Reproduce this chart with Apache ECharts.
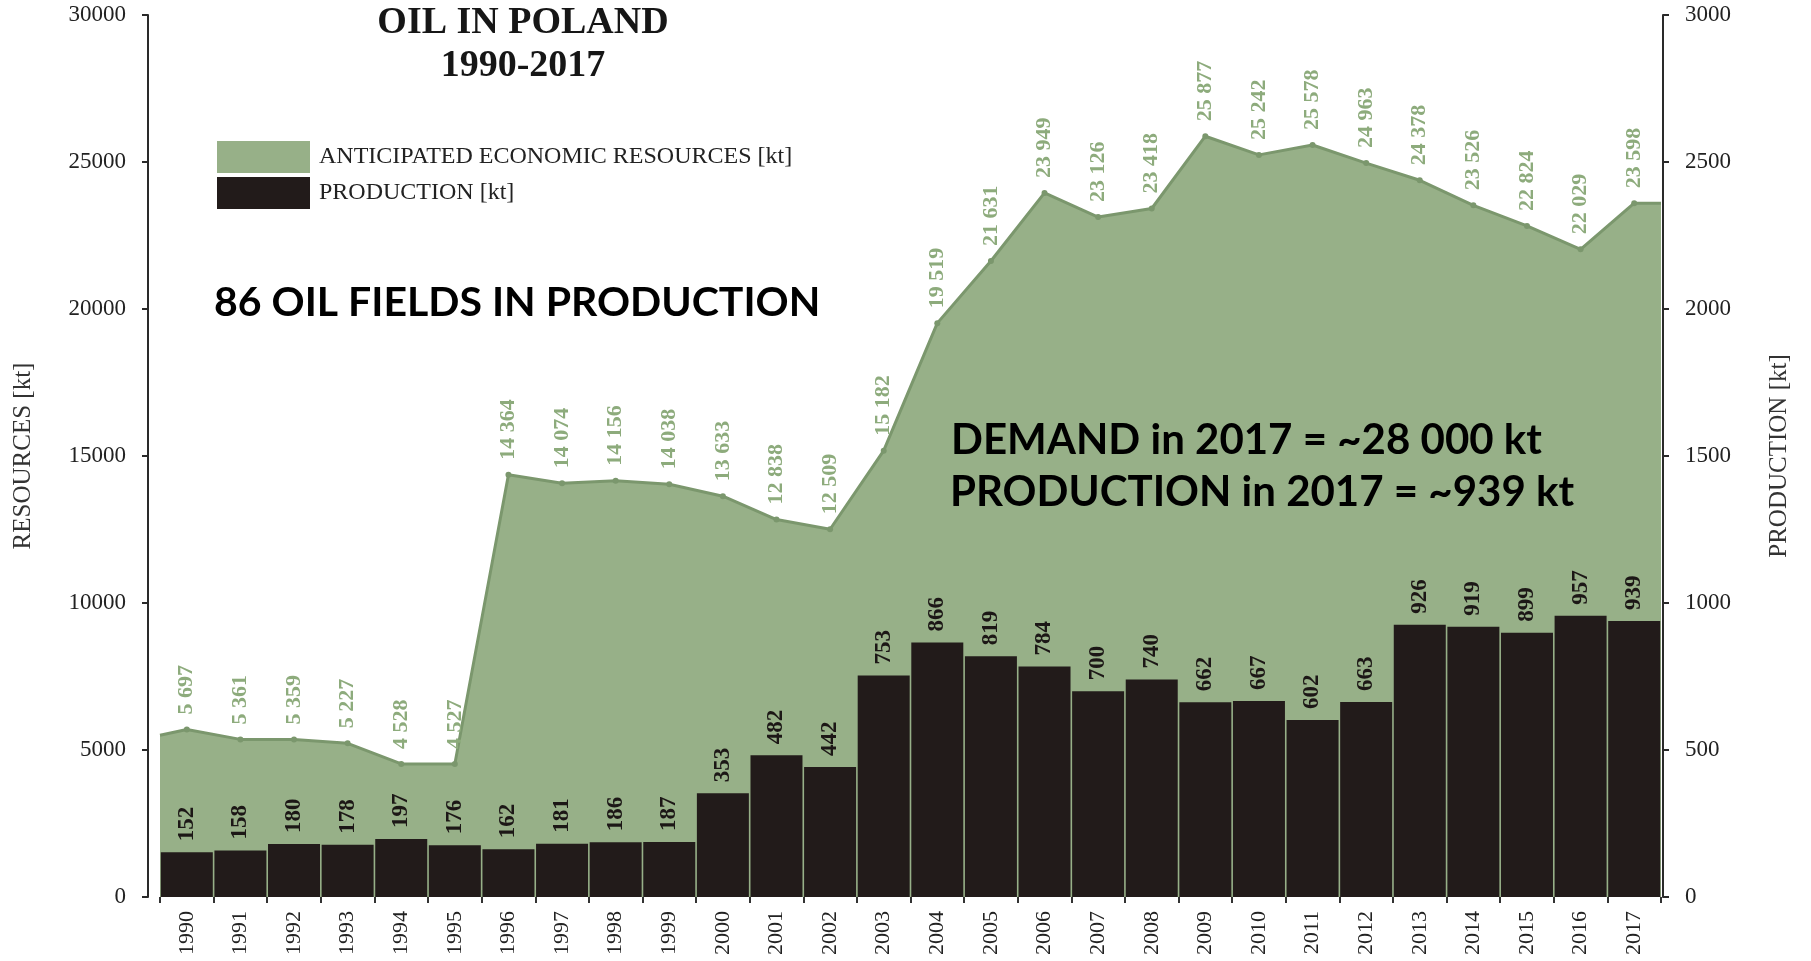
<!DOCTYPE html>
<html>
<head>
<meta charset="utf-8">
<title>Oil in Poland 1990-2017</title>
<script src="https://cdn.jsdelivr.net/npm/echarts@6/dist/echarts.min.js"></script>
<style>
  html, body { margin: 0; padding: 0; background: #fff; }
  #chart { width: 1811px; height: 961px; }
</style>
</head>
<body>
<div id="chart"></div>
<script>
const years = ['1990', '1991', '1992', '1993', '1994', '1995', '1996', '1997', '1998', '1999',
  '2000', '2001', '2002', '2003', '2004', '2005', '2006', '2007', '2008', '2009',
  '2010', '2011', '2012', '2013', '2014', '2015', '2016', '2017'];
const resources = [5697, 5361, 5359, 5227, 4528, 4527, 14364, 14074, 14156, 14038,
  13633, 12838, 12509, 15182, 19519, 21631, 23949, 23126, 23418, 25877,
  25242, 25578, 24963, 24378, 23526, 22824, 22029, 23598];
const production = [152, 158, 180, 178, 197, 176, 162, 181, 186, 187,
  353, 482, 442, 753, 866, 819, 784, 700, 740, 662,
  667, 602, 663, 926, 919, 899, 957, 939];
// area reaches the outer edges of the first and last bars
const resourcesLeftEdge = 5500;
const resourcesRightEdge = 23598;
const leftTicks = [0, 5000, 10000, 15000, 20000, 25000, 30000];
const rightTicks = [0, 500, 1000, 1500, 2000, 2500, 3000];

const serif = "'Liberation Serif', 'DejaVu Serif', serif";
const green = '#97b088';
const greenLine = '#7b976d';
const greenText = '#8dab7c';
const barColor = '#221b1a';

const fmtSpace = v => String(v).replace(/\B(?=(\d{3})+(?!\d))/g, ' ');

const areaData = [{ value: [-0.5, resourcesLeftEdge], symbol: 'none', label: { show: false } }]
  .concat(resources.map((v, i) => [i, v]))
  .concat([{ value: [years.length - 0.5, resourcesRightEdge], symbol: 'none', label: { show: false } }]);

const chart = echarts.init(document.getElementById('chart'));

function yAxisOf(pos, ticks, name, offset, gap) {
  return {
    type: 'value',
    position: pos,
    offset: offset,
    min: ticks[0],
    max: ticks[ticks.length - 1],
    interval: ticks[1] - ticks[0],
    name: name,
    nameLocation: 'middle',
    nameRotate: 90,
    nameGap: gap,
    nameTextStyle: { fontFamily: serif, fontSize: 25, color: '#333' },
    axisLine: { show: true, onZero: false, lineStyle: { color: '#2a2a2a', width: 2 } },
    axisTick: { show: true, length: 6, lineStyle: { color: '#2a2a2a', width: 2 } },
    axisLabel: { margin: 22, fontFamily: serif, fontSize: 23, color: '#222', formatter: v => String(v) },
    splitLine: { show: false }
  };
}

const option = {
  animation: false,
  backgroundColor: '#fff',
  grid: { left: 160, right: 150, top: 15, bottom: 64 },
  legend: {
    left: 217,
    top: 141,
    padding: 0,
    orient: 'vertical',
    itemWidth: 93,
    itemHeight: 32,
    itemGap: 4,
    icon: 'rect',
    selectedMode: false,
    itemStyle: { borderWidth: 0 },
    textStyle: { fontFamily: serif, fontSize: 24, color: '#222', padding: [0, 0, 0, 4] },
    data: [
      { name: 'ANTICIPATED ECONOMIC RESOURCES [kt]', itemStyle: { color: green } },
      { name: 'PRODUCTION [kt]', itemStyle: { color: barColor } }
    ]
  },
  xAxis: [
    {
      type: 'category',
      data: years,
      axisLine: { show: false },
      axisTick: { show: true, length: 6, lineStyle: { color: '#333', width: 2 } },
      axisLabel: {
        rotate: 90,
        margin: 14,
        fontFamily: serif,
        fontSize: 22,
        color: '#222'
      },
      splitLine: { show: false }
    },
    {
      type: 'value',
      min: -0.5,
      max: years.length - 0.5,
      show: false
    }
  ],
  yAxis: [
    yAxisOf('left', leftTicks, 'RESOURCES [kt]', 12, 112),
    yAxisOf('right', rightTicks, 'PRODUCTION [kt]', 2, 104)
  ],
  series: [
    {
      name: 'ANTICIPATED ECONOMIC RESOURCES [kt]',
      type: 'line',
      xAxisIndex: 1,
      yAxisIndex: 0,
      data: areaData,
      symbol: 'circle',
      symbolSize: 6,
      itemStyle: { color: greenLine },
      lineStyle: { color: greenLine, width: 3 },
      areaStyle: { color: green, opacity: 1 },
      label: {
        show: true,
        position: 'top',
        distance: 12,
        rotate: 90,
        align: 'left',
        verticalAlign: 'middle',
        fontFamily: serif,
        fontWeight: 'bold',
        fontSize: 22,
        color: greenText,
        formatter: p => fmtSpace(p.value[1])
      },
      z: 1
    },
    {
      name: 'PRODUCTION [kt]',
      type: 'bar',
      xAxisIndex: 0,
      yAxisIndex: 1,
      data: production,
      barCategoryGap: '3%',
      itemStyle: { color: barColor },
      label: {
        show: true,
        position: 'top',
        distance: 11,
        rotate: 90,
        align: 'left',
        verticalAlign: 'middle',
        fontFamily: serif,
        fontWeight: 'bold',
        fontSize: 23,
        color: '#1c1716'
      },
      z: 3
    }
  ],
  graphic: [
    {
      type: 'text',
      x: 523,
      y: 45,
      style: {
        text: 'OIL IN POLAND\n1990-2017',
        align: 'center',
        verticalAlign: 'middle',
        lineHeight: 43,
        font: "bold 38px 'Liberation Serif'",
        fill: '#161616'
      }
    },
    {
      type: 'text',
      x: 214,
      y: 303,
      style: {
        text: '86 OIL FIELDS IN PRODUCTION',
        align: 'left',
        verticalAlign: 'middle',
        font: "bold 41px Lato, 'Open Sans', sans-serif",
        fill: '#000'
      },
      z: 10
    },
    {
      type: 'text',
      x: 951,
      y: 440,
      style: {
        text: 'DEMAND in 2017 = ~28 000 kt',
        align: 'left',
        verticalAlign: 'middle',
        font: "bold 42px Lato, 'Open Sans', sans-serif",
        fill: '#000'
      },
      z: 10
    },
    {
      type: 'text',
      x: 950,
      y: 492,
      style: {
        text: 'PRODUCTION in 2017 = ~939 kt',
        align: 'left',
        verticalAlign: 'middle',
        font: "bold 42px Lato, 'Open Sans', sans-serif",
        fill: '#000'
      },
      z: 10
    }
  ]
};

chart.setOption(option);
</script>
</body>
</html>
